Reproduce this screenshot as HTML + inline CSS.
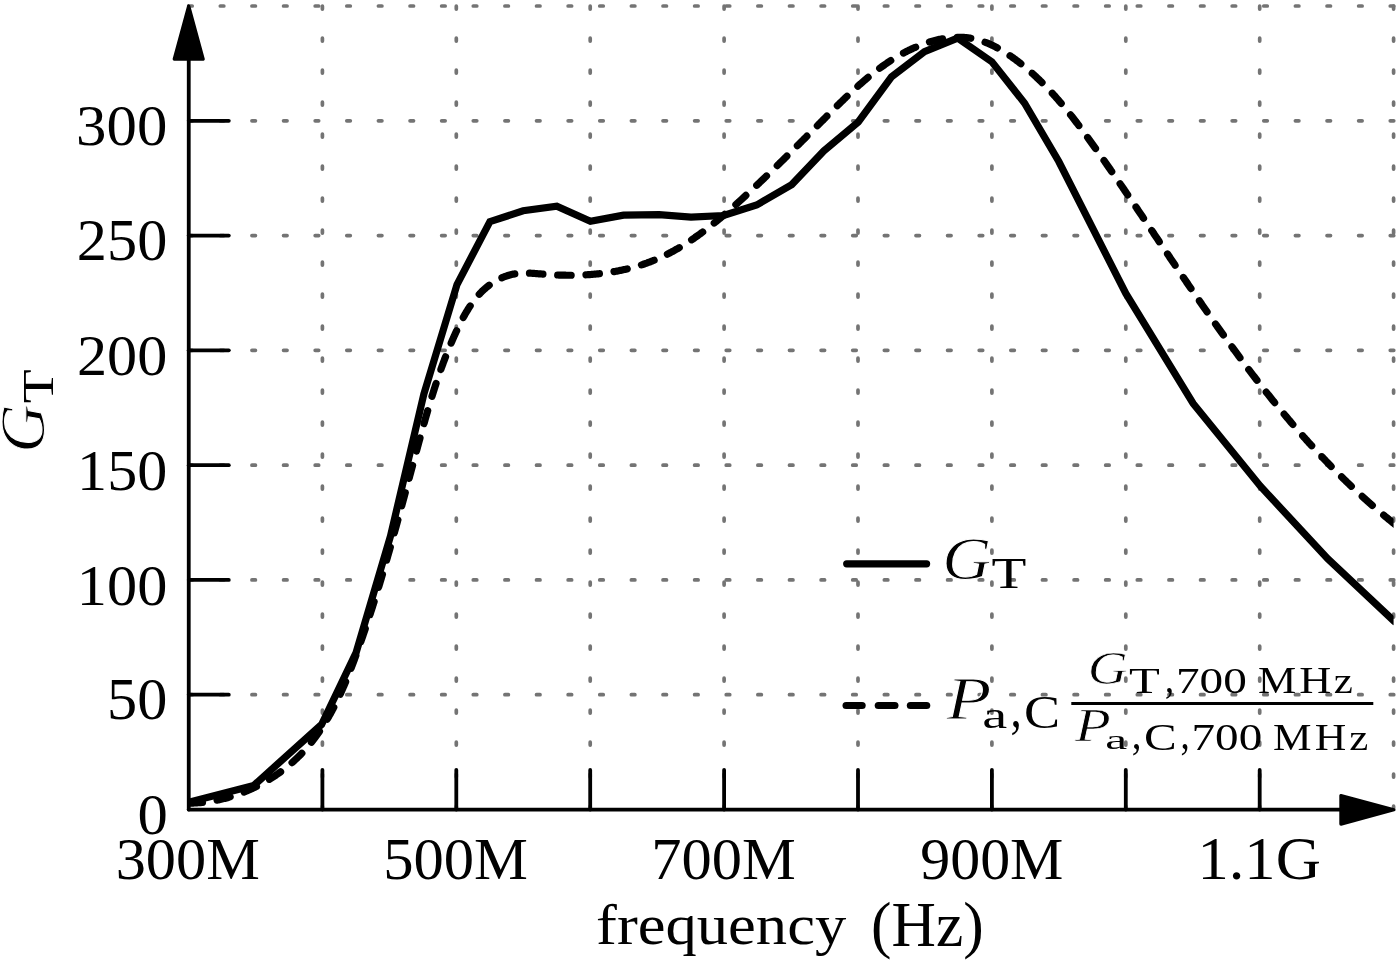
<!DOCTYPE html><html><head><meta charset="utf-8"><style>html,body{margin:0;padding:0;background:#fff;overflow:hidden}svg{display:block}text{font-family:"Liberation Serif",serif;font-kerning:none;font-variant-ligatures:none;fill:#000;-webkit-font-smoothing:antialiased}</style></head><body>
<svg width="1400" height="963" viewBox="0 0 1400 963">
<rect width="1400" height="963" fill="#fff"/>
<g stroke="#747474" stroke-width="3.70" stroke-linecap="round" stroke-dasharray="3.5 28.12" fill="none"><line x1="188.7" y1="694.72" x2="1395.60" y2="694.72"/><line x1="188.7" y1="579.93" x2="1395.60" y2="579.93"/><line x1="188.7" y1="465.15" x2="1395.60" y2="465.15"/><line x1="188.7" y1="350.37" x2="1395.60" y2="350.37"/><line x1="188.7" y1="235.58" x2="1395.60" y2="235.58"/><line x1="188.7" y1="120.80" x2="1395.60" y2="120.80"/><line x1="188.7" y1="6.02" x2="1395.60" y2="6.02"/></g>
<g stroke="#747474" stroke-width="3.70" stroke-linecap="round" stroke-dasharray="2.9 29.1" fill="none"><line x1="322.40" y1="6.15" x2="322.40" y2="809.60"/><line x1="456.30" y1="6.15" x2="456.30" y2="809.60"/><line x1="590.20" y1="6.15" x2="590.20" y2="809.60"/><line x1="724.10" y1="6.15" x2="724.10" y2="809.60"/><line x1="858.00" y1="6.15" x2="858.00" y2="809.60"/><line x1="991.90" y1="6.15" x2="991.90" y2="809.60"/><line x1="1125.80" y1="6.15" x2="1125.80" y2="809.60"/><line x1="1259.70" y1="6.15" x2="1259.70" y2="809.60"/><line x1="1393.60" y1="6.15" x2="1393.60" y2="809.60"/></g>
<defs><clipPath id="pc"><rect x="188.50" y="0" width="1205.10" height="814.60"/></clipPath></defs>
<g clip-path="url(#pc)" fill="none" stroke="#000" stroke-width="7.2">
<path d="M188.50 802.30 L253.80 785.40 L321.60 724.50 L356.10 652.60 L390.50 536.00 L423.90 394.00 L457.00 284.50 L489.90 221.70 L523.10 210.80 L556.80 206.20 L590.40 221.20 L623.50 215.20 L659.00 214.70 L691.00 217.10 L723.70 215.50 L756.70 205.00 L791.80 184.60 L823.80 150.90 L858.30 122.00 L891.50 76.80 L924.50 51.60 L957.60 38.10 L991.90 61.80 L1024.60 103.20 L1058.80 161.50 L1125.80 293.50 L1193.10 403.50 L1260.20 486.00 L1327.90 559.00 L1394.50 621.50" stroke-linejoin="miter" stroke-linecap="round"/>
<path d="M188.34 803.14 L188.65 803.14 L189.59 803.13 L190.52 803.12 L191.45 803.10 L192.38 803.07 L193.32 803.04 L194.25 803.00 L195.18 802.95 L196.11 802.90 L197.04 802.84 L197.98 802.78 L198.91 802.71 L199.84 802.63 L200.77 802.55 L201.69 802.46 L202.47 802.39M217.08 800.14 L217.38 800.08 L218.29 799.89 L219.21 799.69 L220.12 799.49 L221.03 799.28 L221.94 799.06 L222.85 798.84 L223.76 798.62 L224.66 798.39 L225.57 798.15 L226.47 797.91 L227.38 797.66 L228.28 797.41 L229.18 797.15 L230.07 796.89 L230.17 796.86M244.16 792.00 L244.22 791.98 L245.09 791.63 L245.95 791.27 L246.82 790.91 L247.68 790.54 L248.54 790.17 L249.40 789.80 L250.26 789.42 L251.11 789.03 L251.96 788.64 L252.81 788.25 L253.66 787.85 L254.51 787.45 L255.35 787.04 L256.19 786.62 L256.48 786.48M269.38 779.33 L269.56 779.22 L270.35 778.73 L271.14 778.23 L271.93 777.73 L272.72 777.23 L273.50 776.72 L274.28 776.20 L275.06 775.69 L275.83 775.16 L276.60 774.64 L277.37 774.11 L278.13 773.57 L278.89 773.04 L279.65 772.49 L280.41 771.95 L280.59 771.81M292.08 762.59 L292.24 762.45 L292.93 761.84 L293.62 761.22 L294.31 760.60 L294.99 759.97 L295.67 759.34 L296.34 758.71 L297.01 758.07 L297.68 757.43 L298.34 756.79 L299.00 756.14 L299.65 755.49 L300.30 754.84 L300.94 754.18 L301.59 753.52 L301.84 753.26M311.43 742.30 L311.47 742.25 L312.04 741.54 L312.60 740.82 L313.17 740.09 L313.73 739.37 L314.28 738.64 L314.83 737.91 L315.38 737.17 L315.92 736.43 L316.47 735.69 L317.00 734.95 L317.54 734.20 L318.07 733.46 L318.59 732.70 L319.12 731.95 L319.46 731.45M327.26 719.17 L327.34 719.02 L327.81 718.22 L328.27 717.42 L328.73 716.62 L329.19 715.82 L329.65 715.02 L330.10 714.21 L330.55 713.40 L330.99 712.59 L331.43 711.78 L331.88 710.96 L332.31 710.15 L332.75 709.33 L333.18 708.51 L333.61 707.68 L333.78 707.35M340.18 694.26 L340.29 694.02 L340.67 693.17 L341.06 692.32 L341.45 691.46 L341.83 690.61 L342.21 689.76 L342.59 688.90 L342.97 688.04 L343.34 687.18 L343.71 686.32 L344.08 685.46 L344.45 684.60 L344.82 683.74 L345.19 682.88 L345.55 682.01 L345.60 681.90M351.09 668.21 L351.16 668.06 L351.49 667.18 L351.83 666.30 L352.17 665.42 L352.50 664.54 L352.84 663.66 L353.17 662.78 L353.50 661.90 L353.83 661.02 L354.16 660.14 L354.49 659.26 L354.81 658.38 L355.14 657.49 L355.46 656.61 L355.79 655.73 L355.84 655.58M360.88 641.53 L360.96 641.30 L361.27 640.41 L361.58 639.53 L361.89 638.64 L362.20 637.76 L362.51 636.87 L362.81 635.99 L363.12 635.10 L363.42 634.21 L363.73 633.33 L364.03 632.44 L364.33 631.56 L364.64 630.67 L364.94 629.79 L365.24 628.90 L365.28 628.77M370.01 614.53 L370.04 614.41 L370.33 613.52 L370.62 612.64 L370.91 611.75 L371.20 610.86 L371.48 609.97 L371.77 609.08 L372.05 608.20 L372.34 607.31 L372.62 606.42 L372.90 605.53 L373.18 604.64 L373.47 603.75 L373.75 602.86 L374.03 601.97 L374.12 601.67M378.56 587.34 L378.62 587.14 L378.89 586.25 L379.16 585.36 L379.43 584.47 L379.70 583.58 L379.97 582.69 L380.24 581.80 L380.51 580.91 L380.77 580.02 L381.04 579.13 L381.31 578.23 L381.57 577.34 L381.84 576.45 L382.10 575.56 L382.37 574.67 L382.44 574.41M386.62 560.15 L386.63 560.10 L386.89 559.20 L387.15 558.31 L387.40 557.42 L387.66 556.52 L387.91 555.63 L388.17 554.74 L388.42 553.85 L388.68 552.95 L388.93 552.06 L389.19 551.17 L389.44 550.27 L389.70 549.38 L389.95 548.49 L390.20 547.59 L390.32 547.16M394.31 532.93 L394.37 532.69 L394.62 531.80 L394.87 530.90 L395.11 530.01 L395.36 529.11 L395.61 528.22 L395.85 527.32 L396.10 526.43 L396.35 525.53 L396.59 524.64 L396.84 523.74 L397.08 522.85 L397.33 521.95 L397.57 521.06 L397.82 520.16 L397.89 519.91M401.75 505.72 L401.80 505.54 L402.04 504.64 L402.28 503.75 L402.52 502.85 L402.76 501.96 L403.01 501.06 L403.25 500.17 L403.49 499.27 L403.73 498.37 L403.97 497.48 L404.21 496.58 L404.45 495.69 L404.70 494.79 L404.94 493.89 L405.18 493.00 L405.26 492.69M409.09 478.44 L409.11 478.36 L409.35 477.46 L409.59 476.57 L409.83 475.67 L410.07 474.78 L410.31 473.88 L410.56 472.98 L410.80 472.09 L411.04 471.19 L411.28 470.29 L411.52 469.40 L411.76 468.50 L412.00 467.60 L412.24 466.71 L412.48 465.81 L412.59 465.40M416.47 451.06 L416.52 450.87 L416.76 449.97 L417.00 449.08 L417.25 448.18 L417.49 447.28 L417.74 446.39 L417.98 445.49 L418.22 444.59 L418.47 443.70 L418.71 442.80 L418.96 441.90 L419.20 441.01 L419.45 440.11 L419.69 439.21 L419.94 438.32 L420.01 438.04M424.00 423.63 L424.07 423.38 L424.32 422.49 L424.57 421.59 L424.83 420.69 L425.08 419.80 L425.33 418.90 L425.59 418.01 L425.84 417.11 L426.10 416.22 L426.35 415.33 L426.61 414.43 L426.87 413.54 L427.13 412.64 L427.38 411.75 L427.64 410.85 L427.70 410.65M431.97 396.37 L432.00 396.28 L432.27 395.39 L432.55 394.50 L432.83 393.61 L433.10 392.72 L433.38 391.83 L433.66 390.95 L433.95 390.06 L434.23 389.17 L434.51 388.28 L434.80 387.39 L435.08 386.51 L435.37 385.62 L435.66 384.73 L435.95 383.85 L436.06 383.50M440.86 369.46 L440.87 369.42 L441.19 368.54 L441.50 367.66 L441.82 366.78 L442.14 365.90 L442.46 365.02 L442.78 364.15 L443.11 363.27 L443.43 362.39 L443.76 361.52 L444.09 360.64 L444.42 359.76 L444.75 358.89 L445.09 358.01 L445.43 357.14 L445.56 356.80M451.13 343.08 L451.19 342.94 L451.56 342.07 L451.93 341.21 L452.30 340.35 L452.68 339.48 L453.06 338.62 L453.44 337.76 L453.82 336.90 L454.21 336.04 L454.60 335.18 L454.99 334.32 L455.38 333.46 L455.77 332.60 L456.17 331.74 L456.57 330.89 L456.63 330.76M463.25 317.51 L463.34 317.35 L463.79 316.52 L464.24 315.70 L464.70 314.88 L465.17 314.06 L465.64 313.24 L466.11 312.43 L466.59 311.62 L467.07 310.82 L467.56 310.02 L468.05 309.23 L468.55 308.44 L469.05 307.65 L469.56 306.87 L470.07 306.09 L470.18 305.93M479.24 294.27 L479.31 294.20 L479.93 293.53 L480.56 292.87 L481.20 292.21 L481.84 291.57 L482.49 290.93 L483.15 290.29 L483.82 289.67 L484.50 289.06 L485.18 288.45 L485.87 287.85 L486.57 287.26 L487.28 286.68 L488.00 286.11 L488.73 285.55 L489.20 285.19M501.89 277.77 L501.98 277.74 L502.83 277.37 L503.69 277.02 L504.55 276.69 L505.42 276.36 L506.29 276.05 L507.17 275.76 L508.05 275.48 L508.93 275.21 L509.82 274.96 L510.71 274.73 L511.60 274.51 L512.50 274.31 L513.40 274.12 L514.30 273.94 L514.78 273.86M529.46 273.15 L529.55 273.15 L530.48 273.19 L531.41 273.24 L532.34 273.30 L533.27 273.36 L534.20 273.43 L535.13 273.50 L536.06 273.57 L536.99 273.64 L537.93 273.72 L538.86 273.80 L539.80 273.88 L540.73 273.96 L541.67 274.03 L542.60 274.11 L542.92 274.14M557.67 275.01 L557.94 275.02 L558.88 275.06 L559.82 275.09 L560.76 275.12 L561.70 275.14 L562.64 275.17 L563.58 275.19 L564.52 275.20 L565.46 275.22 L566.40 275.23 L567.34 275.24 L568.28 275.24 L569.22 275.24 L570.16 275.24 L571.10 275.24 L571.17 275.24M585.96 274.79 L586.10 274.78 L587.03 274.73 L587.97 274.67 L588.90 274.61 L589.83 274.54 L590.77 274.47 L591.70 274.40 L592.63 274.33 L593.56 274.25 L594.49 274.17 L595.42 274.08 L596.35 273.99 L597.28 273.90 L598.20 273.81 L599.13 273.71 L599.41 273.68M614.02 271.61 L614.16 271.59 L615.07 271.43 L615.98 271.26 L616.89 271.09 L617.80 270.92 L618.71 270.74 L619.61 270.56 L620.52 270.38 L621.42 270.19 L622.33 270.00 L623.23 269.80 L624.13 269.60 L625.03 269.40 L625.93 269.19 L626.83 268.98 L627.24 268.88M641.45 264.88 L641.59 264.84 L642.46 264.55 L643.34 264.26 L644.21 263.97 L645.07 263.67 L645.94 263.36 L646.81 263.06 L647.67 262.74 L648.53 262.43 L649.39 262.11 L650.25 261.78 L651.11 261.45 L651.96 261.12 L652.81 260.78 L653.67 260.44 L654.13 260.25M667.41 254.16 L667.59 254.06 L668.42 253.64 L669.23 253.22 L670.05 252.79 L670.87 252.36 L671.68 251.92 L672.49 251.49 L673.30 251.04 L674.11 250.60 L674.92 250.15 L675.73 249.69 L676.53 249.23 L677.33 248.77 L678.13 248.31 L678.93 247.84 L679.24 247.66M691.64 239.82 L691.78 239.72 L692.55 239.20 L693.32 238.67 L694.09 238.15 L694.86 237.61 L695.63 237.08 L696.40 236.54 L697.16 236.00 L697.92 235.46 L698.69 234.91 L699.45 234.36 L700.21 233.81 L700.97 233.26 L701.72 232.70 L702.48 232.15 L702.66 232.01M714.23 223.05 L714.39 222.92 L715.12 222.32 L715.86 221.73 L716.59 221.13 L717.32 220.53 L718.05 219.93 L718.78 219.33 L719.50 218.73 L720.23 218.12 L720.96 217.52 L721.68 216.91 L722.40 216.30 L723.12 215.69 L723.84 215.07 L724.56 214.46 L724.61 214.42M735.88 204.53 L735.93 204.49 L736.63 203.86 L737.33 203.23 L738.03 202.60 L738.73 201.96 L739.43 201.33 L740.12 200.70 L740.82 200.06 L741.52 199.43 L742.21 198.79 L742.90 198.16 L743.60 197.52 L744.29 196.89 L744.98 196.25 L745.67 195.61 L745.85 195.44M756.75 185.26 L756.83 185.19 L757.50 184.55 L758.18 183.91 L758.86 183.27 L759.53 182.63 L760.20 181.99 L760.88 181.35 L761.55 180.71 L762.22 180.07 L762.89 179.43 L763.57 178.79 L764.24 178.15 L764.91 177.51 L765.57 176.87 L766.24 176.23 L766.53 175.95M777.25 165.58 L777.31 165.51 L777.97 164.87 L778.63 164.22 L779.29 163.58 L779.95 162.93 L780.61 162.29 L781.27 161.64 L781.93 161.00 L782.59 160.35 L783.24 159.70 L783.90 159.06 L784.56 158.41 L785.21 157.76 L785.87 157.12 L786.53 156.47 L786.88 156.12M797.36 145.73 L797.43 145.65 L798.08 145.00 L798.74 144.35 L799.39 143.70 L800.04 143.05 L800.70 142.40 L801.35 141.75 L802.00 141.09 L802.65 140.44 L803.31 139.79 L803.96 139.14 L804.61 138.48 L805.27 137.83 L805.92 137.18 L806.57 136.52 L806.91 136.19M817.36 125.70 L817.46 125.60 L818.12 124.94 L818.77 124.28 L819.43 123.62 L820.09 122.96 L820.74 122.31 L821.40 121.65 L822.05 120.99 L822.71 120.33 L823.37 119.67 L824.02 119.01 L824.68 118.35 L825.34 117.69 L826.00 117.03 L826.66 116.37 L826.89 116.14M837.37 105.67 L837.48 105.56 L838.15 104.91 L838.81 104.25 L839.48 103.59 L840.15 102.93 L840.82 102.27 L841.49 101.62 L842.17 100.96 L842.84 100.31 L843.51 99.65 L844.19 99.00 L844.86 98.35 L845.54 97.70 L846.22 97.04 L846.90 96.40 L847.04 96.26M857.89 86.19 L857.90 86.18 L858.60 85.55 L859.30 84.93 L860.00 84.31 L860.71 83.69 L861.41 83.07 L862.12 82.45 L862.82 81.84 L863.53 81.23 L864.24 80.62 L864.95 80.01 L865.67 79.40 L866.38 78.80 L867.10 78.20 L867.82 77.60 L868.10 77.36M879.69 68.27 L879.79 68.19 L880.54 67.64 L881.29 67.09 L882.05 66.55 L882.80 66.00 L883.56 65.46 L884.32 64.93 L885.08 64.40 L885.85 63.87 L886.61 63.34 L887.38 62.82 L888.15 62.30 L888.92 61.79 L889.70 61.28 L890.48 60.77 L890.78 60.58M903.48 53.06 L903.52 53.04 L904.34 52.60 L905.16 52.17 L905.99 51.74 L906.82 51.32 L907.65 50.90 L908.48 50.49 L909.32 50.08 L910.16 49.67 L911.00 49.27 L911.85 48.88 L912.70 48.49 L913.55 48.10 L914.40 47.72 L915.26 47.34 L915.63 47.18M929.46 42.05 L929.62 42.00 L930.52 41.72 L931.42 41.46 L932.32 41.20 L933.23 40.95 L934.13 40.70 L935.04 40.46 L935.94 40.23 L936.85 40.01 L937.76 39.80 L938.67 39.59 L939.58 39.39 L940.49 39.20 L941.40 39.02 L942.32 38.85 L942.55 38.81M957.33 37.29 L957.57 37.29 L958.48 37.28 L959.39 37.29 L960.30 37.30 L961.21 37.32 L962.12 37.36 L963.03 37.41 L963.94 37.46 L964.84 37.53 L965.75 37.61 L966.65 37.70 L967.55 37.81 L968.45 37.92 L969.35 38.05 L970.24 38.18 L970.78 38.27M985.08 42.22 L985.18 42.26 L986.04 42.59 L986.90 42.93 L987.76 43.28 L988.61 43.64 L989.46 44.01 L990.31 44.39 L991.16 44.77 L992.00 45.17 L992.84 45.57 L993.68 45.98 L994.52 46.40 L995.36 46.82 L996.19 47.26 L997.02 47.70 L997.33 47.87M1010.02 55.68 L1010.21 55.81 L1010.99 56.35 L1011.77 56.90 L1012.55 57.45 L1013.33 58.01 L1014.10 58.57 L1014.87 59.14 L1015.64 59.70 L1016.40 60.28 L1017.16 60.85 L1017.92 61.43 L1018.67 62.01 L1019.43 62.60 L1020.17 63.18 L1020.86 63.73M1032.20 73.31 L1032.22 73.32 L1032.91 73.94 L1033.61 74.57 L1034.30 75.21 L1034.99 75.84 L1035.68 76.48 L1036.36 77.12 L1037.04 77.76 L1037.72 78.40 L1038.40 79.04 L1039.07 79.69 L1039.74 80.34 L1040.41 80.99 L1041.08 81.64 L1041.74 82.30 L1042.02 82.57M1052.28 93.26 L1052.47 93.47 L1053.09 94.15 L1053.71 94.84 L1054.34 95.53 L1054.95 96.22 L1055.57 96.91 L1056.19 97.61 L1056.80 98.30 L1057.41 99.00 L1058.02 99.69 L1058.63 100.39 L1059.23 101.09 L1059.84 101.80 L1060.44 102.50 L1061.04 103.20 L1061.20 103.39M1070.59 114.86 L1070.62 114.90 L1071.19 115.63 L1071.76 116.35 L1072.34 117.08 L1072.91 117.81 L1073.47 118.54 L1074.04 119.27 L1074.61 120.00 L1075.17 120.74 L1075.74 121.47 L1076.30 122.21 L1076.86 122.94 L1077.42 123.68 L1077.98 124.42 L1078.54 125.16 L1078.84 125.55M1087.63 137.46 L1087.72 137.58 L1088.26 138.33 L1088.81 139.08 L1089.35 139.83 L1089.89 140.59 L1090.43 141.34 L1090.97 142.09 L1091.51 142.85 L1092.05 143.60 L1092.59 144.36 L1093.13 145.11 L1093.67 145.87 L1094.21 146.62 L1094.75 147.38 L1095.29 148.13 L1095.50 148.43M1104.02 160.52 L1104.03 160.53 L1104.56 161.29 L1105.09 162.05 L1105.63 162.81 L1106.16 163.58 L1106.69 164.34 L1107.22 165.10 L1107.75 165.86 L1108.28 166.63 L1108.81 167.39 L1109.34 168.15 L1109.88 168.92 L1110.41 169.68 L1110.94 170.44 L1111.46 171.21 L1111.74 171.60M1120.09 183.72 L1120.26 183.98 L1120.79 184.74 L1121.31 185.51 L1121.84 186.28 L1122.37 187.05 L1122.89 187.82 L1123.42 188.59 L1123.94 189.36 L1124.47 190.12 L1124.99 190.89 L1125.52 191.66 L1126.04 192.43 L1126.56 193.20 L1127.09 193.97 L1127.61 194.74 L1127.70 194.87M1135.97 207.06 L1135.98 207.08 L1136.50 207.85 L1137.02 208.62 L1137.55 209.39 L1138.07 210.17 L1138.59 210.94 L1139.11 211.71 L1139.63 212.48 L1140.15 213.26 L1140.67 214.03 L1141.20 214.80 L1141.72 215.58 L1142.24 216.35 L1142.76 217.12 L1143.28 217.90 L1143.52 218.25M1151.74 230.48 L1151.78 230.53 L1152.30 231.31 L1152.82 232.08 L1153.34 232.86 L1153.86 233.63 L1154.38 234.41 L1154.90 235.18 L1155.42 235.95 L1155.94 236.73 L1156.46 237.50 L1156.98 238.28 L1157.50 239.05 L1158.02 239.83 L1158.55 240.60 L1159.07 241.37 L1159.27 241.68M1167.54 253.98 L1167.57 254.02 L1168.09 254.80 L1168.61 255.57 L1169.13 256.35 L1169.65 257.12 L1170.17 257.89 L1170.69 258.67 L1171.22 259.44 L1171.74 260.21 L1172.26 260.99 L1172.78 261.76 L1173.30 262.54 L1173.82 263.31 L1174.35 264.08 L1174.87 264.86 L1175.08 265.17M1183.38 277.44 L1183.41 277.48 L1183.94 278.25 L1184.46 279.02 L1184.98 279.79 L1185.51 280.57 L1186.03 281.34 L1186.56 282.11 L1187.08 282.88 L1187.61 283.65 L1188.13 284.42 L1188.66 285.19 L1189.19 285.96 L1189.71 286.73 L1190.24 287.50 L1190.76 288.27 L1190.98 288.60M1199.38 300.82 L1199.39 300.84 L1199.92 301.60 L1200.45 302.37 L1200.98 303.14 L1201.51 303.90 L1202.04 304.67 L1202.57 305.44 L1203.10 306.20 L1203.63 306.97 L1204.16 307.74 L1204.69 308.50 L1205.23 309.27 L1205.76 310.03 L1206.29 310.80 L1206.82 311.56 L1207.07 311.91M1215.51 323.94 L1215.57 324.03 L1216.11 324.79 L1216.64 325.55 L1217.18 326.31 L1217.72 327.07 L1218.26 327.83 L1218.80 328.59 L1219.34 329.35 L1219.88 330.11 L1220.42 330.87 L1220.96 331.62 L1221.50 332.38 L1222.04 333.14 L1222.59 333.90 L1223.13 334.66 L1223.33 334.94M1231.95 346.88 L1232.03 346.99 L1232.58 347.74 L1233.13 348.49 L1233.68 349.24 L1234.23 349.99 L1234.78 350.74 L1235.33 351.49 L1235.88 352.24 L1236.43 352.99 L1236.98 353.74 L1237.53 354.49 L1238.08 355.24 L1238.64 355.99 L1239.19 356.74 L1239.74 357.49 L1239.95 357.76M1248.79 369.57 L1248.85 369.65 L1249.41 370.39 L1249.97 371.13 L1250.53 371.87 L1251.10 372.61 L1251.66 373.35 L1252.22 374.09 L1252.79 374.83 L1253.35 375.57 L1253.92 376.30 L1254.48 377.04 L1255.05 377.78 L1255.62 378.51 L1256.18 379.25 L1256.75 379.99 L1256.99 380.29M1266.21 392.08 L1266.29 392.19 L1266.87 392.91 L1267.44 393.64 L1268.02 394.37 L1268.60 395.10 L1269.18 395.82 L1269.76 396.55 L1270.34 397.27 L1270.92 398.00 L1271.50 398.72 L1272.08 399.44 L1272.67 400.17 L1273.25 400.89 L1273.83 401.61 L1274.42 402.33 L1274.65 402.62M1284.15 414.17 L1284.24 414.29 L1284.84 415.00 L1285.43 415.71 L1286.03 416.42 L1286.63 417.13 L1287.23 417.84 L1287.82 418.55 L1288.42 419.26 L1289.02 419.97 L1289.62 420.68 L1290.22 421.38 L1290.82 422.09 L1291.43 422.80 L1292.03 423.50 L1292.63 424.21 L1292.86 424.48M1302.67 435.74 L1302.79 435.87 L1303.41 436.57 L1304.02 437.26 L1304.64 437.96 L1305.26 438.65 L1305.88 439.34 L1306.50 440.03 L1307.12 440.72 L1307.74 441.41 L1308.36 442.10 L1308.98 442.79 L1309.60 443.48 L1310.23 444.17 L1310.85 444.86 L1311.48 445.54 L1311.70 445.78M1321.79 456.66 L1321.80 456.66 L1322.44 457.34 L1323.07 458.01 L1323.71 458.68 L1324.36 459.36 L1325.00 460.03 L1325.64 460.70 L1326.28 461.37 L1326.93 462.04 L1327.57 462.71 L1328.22 463.38 L1328.87 464.05 L1329.51 464.72 L1330.16 465.38 L1330.81 466.05 L1331.14 466.39M1341.62 476.91 L1341.75 477.04 L1342.42 477.69 L1343.08 478.34 L1343.75 478.99 L1344.41 479.64 L1345.08 480.29 L1345.75 480.94 L1346.42 481.59 L1347.09 482.24 L1347.76 482.88 L1348.43 483.53 L1349.11 484.17 L1349.78 484.82 L1350.46 485.46 L1351.13 486.10 L1351.33 486.29M1362.23 496.43 L1362.30 496.49 L1362.99 497.11 L1363.68 497.74 L1364.38 498.37 L1365.07 499.00 L1365.77 499.62 L1366.47 500.24 L1367.16 500.87 L1367.86 501.49 L1368.56 502.11 L1369.26 502.73 L1369.96 503.35 L1370.67 503.97 L1371.37 504.59 L1372.08 505.21 L1372.31 505.41M1383.66 515.12 L1383.73 515.17 L1384.45 515.77 L1385.17 516.38 L1385.90 516.98 L1386.62 517.58 L1387.35 518.17 L1388.07 518.77 L1388.80 519.37 L1389.53 519.96 L1390.26 520.56 L1391.00 521.15 L1391.73 521.75 L1392.46 522.34 L1393.20 522.93 L1393.93 523.52 L1394.67 524.11 L1395.41 524.70 L1396.15 525.29 L1396.89 525.87 L1397.63 526.46 L1398.37 527.04 L1399.11 527.63 L1399.86 528.21 L1400.60 528.79" stroke-linejoin="round" stroke-linecap="round"/>
</g>
<g stroke="#000" stroke-width="3.80" fill="none" stroke-linecap="round">
<line x1="188.75" y1="809.60" x2="188.75" y2="58"/>
<line x1="188.75" y1="809.60" x2="1342" y2="809.60"/>
<line x1="188.75" y1="694.72" x2="228.8" y2="694.72"/>
<line x1="188.75" y1="579.93" x2="228.8" y2="579.93"/>
<line x1="188.75" y1="465.15" x2="228.8" y2="465.15"/>
<line x1="188.75" y1="350.37" x2="228.8" y2="350.37"/>
<line x1="188.75" y1="235.58" x2="228.8" y2="235.58"/>
<line x1="188.75" y1="120.80" x2="228.8" y2="120.80"/>
<line x1="322.40" y1="809.60" x2="322.40" y2="770.0"/>
<line x1="456.30" y1="809.60" x2="456.30" y2="770.0"/>
<line x1="590.20" y1="809.60" x2="590.20" y2="770.0"/>
<line x1="724.10" y1="809.60" x2="724.10" y2="770.0"/>
<line x1="858.00" y1="809.60" x2="858.00" y2="770.0"/>
<line x1="991.90" y1="809.60" x2="991.90" y2="770.0"/>
<line x1="1125.80" y1="809.60" x2="1125.80" y2="770.0"/>
<line x1="1259.70" y1="809.60" x2="1259.70" y2="770.0"/>
</g>
<g fill="#000" stroke="#000" stroke-width="3.20" stroke-linejoin="round">
<path d="M188.7 6.0 L203.2 59.1 L174.2 59.1 Z"/>
<path d="M1393.9 809.8 L1340.9 795.6 L1340.9 824.1 Z"/>
</g>
<g stroke="#000" stroke-width="7.2" stroke-linecap="round" fill="none">
<line x1="846.7" y1="563.8" x2="926.6" y2="563.8"/>
<line x1="846.1" y1="705.5" x2="862.1" y2="705.5"/>
<line x1="878.3" y1="705.5" x2="894.9" y2="705.5"/>
<line x1="910.4" y1="705.5" x2="926.7" y2="705.5"/>
</g>
<line x1="1071.3" y1="703.4" x2="1373.3" y2="703.4" stroke="#000" stroke-width="3.0"/>
<g style="opacity:0.999"><text transform="matrix(0.60818 0 0 0.58091 76.09 145.43)" font-size="100" font-style="normal">300</text><text transform="matrix(0.60298 0 0 0.58091 76.85 260.22)" font-size="100" font-style="normal">250</text><text transform="matrix(0.60227 0 0 0.58091 76.95 375.00)" font-size="100" font-style="normal">200</text><text transform="matrix(0.60115 0 0 0.58091 77.12 489.78)" font-size="100" font-style="normal">150</text><text transform="matrix(0.60334 0 0 0.58091 76.80 604.57)" font-size="100" font-style="normal">100</text><text transform="matrix(0.60300 0 0 0.58091 107.00 719.35)" font-size="100" font-style="normal">50</text><text transform="matrix(0.60638 0 0 0.57646 137.59 834.44)" font-size="100" font-style="normal">0</text><text transform="matrix(0.60337 0 0 0.58387 115.71 879.03)" font-size="100" font-style="normal">300M</text><text transform="matrix(0.60606 0 0 0.59128 383.18 879.22)" font-size="100" font-style="normal">500M</text><text transform="matrix(0.60507 0 0 0.59128 651.21 879.22)" font-size="100" font-style="normal">700M</text><text transform="matrix(0.59975 0 0 0.59128 920.17 879.22)" font-size="100" font-style="normal">900M</text><text transform="matrix(0.62600 0 0 0.60922 1197.40 878.94)" font-size="100" font-style="normal">1.1G</text><text transform="matrix(0.62581 0 0 0.55983 596.07 944.42)" font-size="100" font-style="normal">frequency</text><text transform="matrix(0.61492 0 0 0.63690 871.05 945.94)" font-size="100" font-style="normal">(Hz)</text><text transform="matrix(0.67854 0 0 0.61410 942.36 579.06)" font-size="100" font-style="italic" stroke="#fff" stroke-width="1.549">G</text><text transform="matrix(0.57101 0 0 0.45206 991.57 588.20)" font-size="100" font-style="normal">T</text><text transform="matrix(0.73457 0 0 0.62005 946.59 719.00)" font-size="100" font-style="italic" stroke="#fff" stroke-width="1.482">P</text><text transform="matrix(0.56200 0 0 0.38204 982.32 727.73)" font-size="100" font-style="normal">a</text><text transform="matrix(0.54134 0 0 0.45842 1024.08 727.65)" font-size="100" font-style="normal">C</text><text transform="matrix(0.44989 0 0 0.54120 1010.49 727.48)" font-size="100" font-style="normal">,</text><text transform="matrix(0.55305 0 0 0.47101 1087.65 683.69)" font-size="100" font-style="italic" stroke="#fff" stroke-width="1.567">G</text><text transform="matrix(0.50506 0 0 0.36653 1129.09 692.90)" font-size="100" font-style="normal">T</text><text transform="matrix(0.36260 0 0 0.43218 1164.92 692.45)" font-size="100" font-style="normal">,</text><text transform="matrix(0.47278 0 0 0.36603 1175.88 693.14)" font-size="100" font-style="normal">700</text><text transform="matrix(0.42957 0 0 0.38028 1257.96 692.90)" font-size="100" font-style="normal">M</text><text transform="matrix(0.44273 0 0 0.38028 1299.32 692.90)" font-size="100" font-style="normal">H</text><text transform="matrix(0.43170 0 0 0.35513 1333.74 692.90)" font-size="100" font-style="normal">z</text><text transform="matrix(0.58563 0 0 0.45817 1075.01 740.70)" font-size="100" font-style="italic" stroke="#fff" stroke-width="1.544">P</text><text transform="matrix(0.49365 0 0 0.26305 1105.36 748.64)" font-size="100" font-style="normal">a</text><text transform="matrix(0.38946 0 0 0.43608 1131.72 749.49)" font-size="100" font-style="normal">,</text><text transform="matrix(0.49054 0 0 0.37358 1143.99 749.64)" font-size="100" font-style="normal">C</text><text transform="matrix(0.36931 0 0 0.43608 1180.39 749.49)" font-size="100" font-style="normal">,</text><text transform="matrix(0.47063 0 0 0.37492 1191.60 749.93)" font-size="100" font-style="normal">700</text><text transform="matrix(0.43318 0 0 0.37417 1273.05 749.60)" font-size="100" font-style="normal">M</text><text transform="matrix(0.43671 0 0 0.37417 1314.64 749.60)" font-size="100" font-style="normal">H</text><text transform="matrix(0.42913 0 0 0.34860 1349.35 749.60)" font-size="100" font-style="normal">z</text></g>
<g transform="rotate(-90)"><text transform="matrix(0.67079 0 0 0.62752 -452.70 44.45)" font-size="100" font-style="italic" stroke="#fff" stroke-width="1.541">G</text><text transform="matrix(0.55539 0 0 0.45358 -403.30 53.10)" font-size="100" font-style="normal">T</text></g>
</svg></body></html>
